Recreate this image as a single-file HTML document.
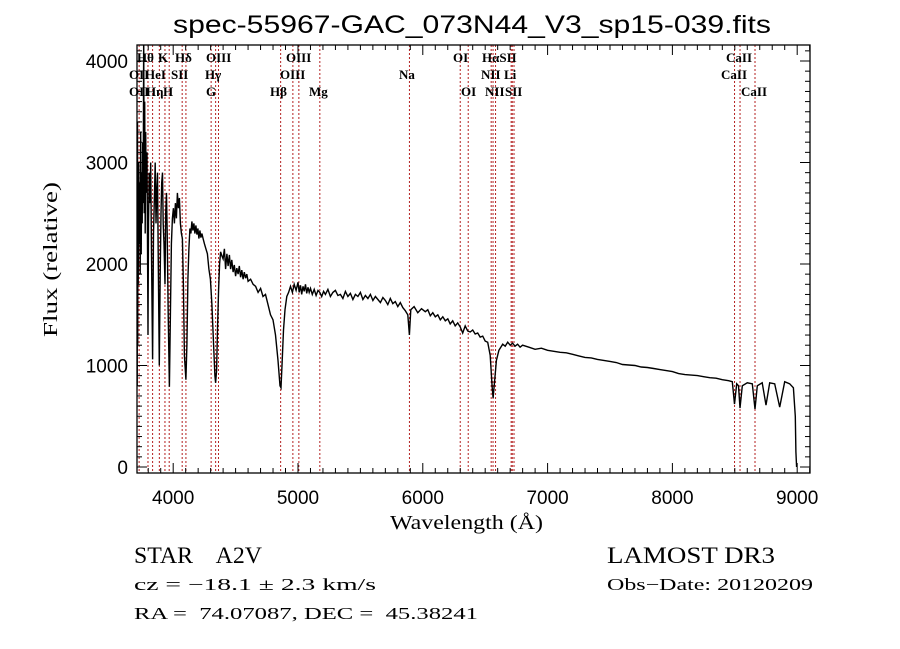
<!DOCTYPE html>
<html><head><meta charset="utf-8"><style>
html,body{margin:0;padding:0;background:#fff;}
svg{display:block;}
.t{font-family:"Liberation Sans",sans-serif;fill:#000;}
.s{font-family:"Liberation Serif",serif;fill:#000;}
.lab{font-family:"Liberation Serif",serif;font-size:13px;font-weight:bold;fill:#000;}
</style></head><body>
<svg id="chart" width="900" height="649" viewBox="0 0 900 649" xmlns="http://www.w3.org/2000/svg">
<rect x="0" y="0" width="900" height="649" fill="#fff"/>
<defs><clipPath id="pc"><rect x="137" y="45" width="673" height="428"/></clipPath></defs>
<text class="t" x="173" y="33" font-size="25" textLength="598" lengthAdjust="spacingAndGlyphs">spec-55967-GAC_073N44_V3_sp15-039.fits</text>
<g id="lines" clip-path="url(#pc)"></g>
<g id="labels"></g>
<path id="spec" clip-path="url(#pc)" fill="none" stroke="#000" stroke-width="1.4"/>
<g id="axes"></g>
<text class="s" x="390" y="529" font-size="20" textLength="153" lengthAdjust="spacingAndGlyphs">Wavelength (Å)</text>
<text class="s" transform="translate(57,337) rotate(-90)" font-size="20" textLength="155" lengthAdjust="spacingAndGlyphs">Flux (relative)</text>
<text class="s" x="134" y="563" font-size="23" textLength="128" lengthAdjust="spacingAndGlyphs" xml:space="preserve">STAR    A2V</text>
<text class="s" x="607" y="563" font-size="23" textLength="168" lengthAdjust="spacingAndGlyphs">LAMOST DR3</text>
<text class="s" x="134" y="590" font-size="17" textLength="242" lengthAdjust="spacingAndGlyphs">cz = −18.1 ± 2.3 km/s</text>
<text class="s" x="607" y="590" font-size="17" textLength="206" lengthAdjust="spacingAndGlyphs">Obs−Date: 20120209</text>
<text class="s" x="134" y="619" font-size="17" textLength="344" lengthAdjust="spacingAndGlyphs" xml:space="preserve">RA =  74.07087, DEC =  45.38241</text>
</svg>
<script>
// Each line below has 10 entries; fluxes lines correspond one-to-one.
const wavelengths=[
3706,3708,3710,3712,3714,3716,3718,3720,3724,3728,
3732,3736,3740,3744,3748,3752,3756,3760,3764,3768,
3772,3776,3780,3784,3790,3794,3798,3802,3808,3814,
3820,3826,3835,3842,3850,3856,3862,3868,3874,3880,
3889,3896,3902,3908,3914,3920,3926,3934,3940,3946,
3952,3960,3970,3978,3986,3994,4002,4010,4018,4026,
4034,4042,4050,4058,4066,4074,4082,4090,4102,4110,
4118,4126,4134,4142,4150,4158,4166,4174,4182,4190,
4198,4206,4214,4222,4230,4240,4250,4262,4274,4286,
4298,4310,4322,4334,4340,4348,4356,4364,4372,4380,
4390,4400,4410,4420,4430,4440,4450,4460,4470,4480,
4490,4500,4510,4520,4530,4540,4550,4560,4570,4580,
4590,4600,4620,4640,4660,4680,4700,4720,4740,4760,
4780,4800,4820,4840,4856,4864,4872,4884,4896,4910,
4925,4940,4955,4970,4985,5000,5010,5020,5030,5040,
5050,5060,5070,5080,5090,5100,5115,5130,5145,5160,
5175,5190,5205,5220,5240,5260,5280,5300,5320,5340,
5360,5380,5400,5420,5440,5460,5480,5500,5520,5540,
5560,5580,5600,5620,5640,5660,5680,5700,5720,5740,
5760,5780,5800,5820,5840,5860,5880,5893,5904,5930,
5960,5990,6020,6040,6060,6080,6100,6120,6140,6160,
6180,6200,6220,6240,6260,6280,6300,6320,6340,6360,
6380,6400,6420,6440,6460,6480,6500,6520,6540,6556,
6563,6572,6590,6610,6625,6640,6660,6680,6700,6720,
6740,6760,6780,6800,6850,6900,6950,7000,7050,7100,
7150,7200,7250,7300,7350,7400,7450,7500,7550,7600,
7650,7700,7750,7800,7850,7900,7950,8000,8050,8100,
8150,8200,8250,8300,8350,8400,8450,8480,8498,8515,
8530,8542,8560,8600,8640,8662,8680,8720,8750,8780,
8820,8860,8900,8940,8970,8985,8990,8995];
const fluxes=[
0,200,1500,800,3400,1200,2600,1800,3000,2200,
2800,1900,3300,2100,2900,2400,3200,2600,4300,2500,
3600,2300,3300,2700,3100,2200,1300,2400,2900,2600,
3000,2100,1060,2300,2700,3000,2400,2700,2900,2100,
1000,1900,2500,2800,2900,2400,2200,1800,2500,2700,
2300,1500,790,1500,2200,2450,2550,2400,2600,2450,
2700,2550,2650,2400,2300,2250,1800,1100,860,1200,
1850,2150,2350,2300,2420,2330,2400,2300,2380,2290,
2350,2250,2330,2260,2300,2250,2200,2150,2100,1950,
1850,1600,1250,900,830,950,1400,1750,2000,2120,
2080,2050,2150,1950,2100,1980,2090,1950,2040,1920,
1990,1880,1960,1900,1980,1870,1940,1850,1920,1860,
1900,1830,1850,1800,1780,1720,1760,1680,1700,1600,
1500,1450,1300,1050,800,780,1000,1350,1550,1680,
1720,1780,1720,1800,1740,1820,1720,1790,1700,1780,
1730,1800,1710,1770,1720,1760,1700,1750,1690,1740,
1720,1680,1730,1700,1750,1680,1720,1740,1690,1700,
1660,1730,1680,1710,1650,1700,1680,1720,1650,1690,
1660,1700,1640,1680,1650,1620,1670,1640,1600,1660,
1610,1630,1580,1620,1570,1540,1500,1300,1550,1580,
1520,1560,1530,1550,1490,1520,1480,1500,1450,1480,
1440,1460,1410,1440,1390,1420,1380,1320,1390,1340,
1330,1350,1310,1320,1280,1290,1240,1230,1100,780,
680,800,1050,1150,1180,1210,1190,1230,1200,1220,
1190,1210,1180,1200,1180,1160,1170,1150,1140,1130,
1125,1110,1095,1080,1075,1060,1050,1040,1030,1010,
1005,1000,985,980,970,960,950,940,920,910,
905,900,890,880,875,860,850,840,620,820,
800,580,800,830,820,570,800,830,610,830,
820,590,840,820,780,500,150,0];
const lineWaves=[3727,3798,3835,3889,3934,3968,4072,4102,4304,4340,4363,4861,4959,5007,5175,5893,6300,6364,6548,6563,6583,6708,6717,6731,8498,8542,8662];
const lineLabels=[["Hθ",137,57],["K",158,57],["Hδ",175,57],["OIII",206,57],["OIII",286,57],["OI",453,57],["HαSII",482,57],["CaII",726,57],
["OII",129,74],["HeI",145,74],["SII",171,74],["Hγ",205,74],["OIII",280,74],["Na",399,74],["NII",481,74],["Li",504,74],["CaII",721,74],
["OII",129,91],["Hη",146,91],["H",163,91],["G",206,91],["Hβ",270,91],["Mg",309,91],["OI",461,91],["NII",485,91],["SII",505,91],["CaII",741,91]];
const xTicks=[4000,5000,6000,7000,8000,9000];
const yTicks=[0,1000,2000,3000,4000];

const X0=136.5,XMIN=3706,XS=0.1248,Y0=467,YS=0.1015,L=137,R=810,T=45,B=473;
const xS=w=>X0+(w-XMIN)*XS, yS=f=>Y0-f*YS;
const NS="http://www.w3.org/2000/svg";
function mk(tag,attrs,parent){const e=document.createElementNS(NS,tag);for(const k in attrs)e.setAttribute(k,attrs[k]);parent.appendChild(e);return e;}

const lg=document.getElementById('lines');
lineWaves.forEach(w=>{
  const l=mk('line',{x1:xS(w),x2:xS(w),y1:T,y2:B,stroke:'#b42020','stroke-width':1,'stroke-dasharray':'2,2'},lg);
  
  
});
const lb=document.getElementById('labels');
lineLabels.forEach(a=>{
  const t=mk('text',{x:a[1],y:a[2]+5,class:'lab'},lb);t.textContent=a[0];
  
  
});
let d='';
const n=Math.min(wavelengths.length,fluxes.length);
for(let i=0;i<n;i++){d+=(i?'L':'M')+xS(wavelengths[i]).toFixed(1)+','+yS(fluxes[i]).toFixed(1);}
document.getElementById('spec').setAttribute('d',d);

const ax=document.getElementById('axes');
const fr=mk('rect',{x:L,y:T,width:R-L,height:B-T,fill:'none',stroke:'#000','stroke-width':1.3},ax);


for(let w=3800;w<=9100;w+=100){
  const x=xS(w),len=(w%1000===0)?10:5;
  mk('line',{x1:x,x2:x,y1:B,y2:B-len,stroke:'#000'},ax);
  mk('line',{x1:x,x2:x,y1:T,y2:T+len,stroke:'#000'},ax);
}
for(let f=0;f<=4100;f+=100){
  const y=yS(f),len=(f%1000===0)?10:5;
  mk('line',{x1:L,x2:L+len,y1:y,y2:y,stroke:'#000'},ax);
  mk('line',{x1:R,x2:R-len,y1:y,y2:y,stroke:'#000'},ax);
}
xTicks.forEach(w=>{
  const t=mk('text',{x:xS(w),y:504,'text-anchor':'middle',class:'t','font-size':19},ax);t.textContent=w;
  
  
});
yTicks.forEach(f=>{
  const t=mk('text',{x:128,y:yS(f)+7,'text-anchor':'end',class:'t','font-size':19},ax);t.textContent=f;
  
  
});
</script>
</body></html>
